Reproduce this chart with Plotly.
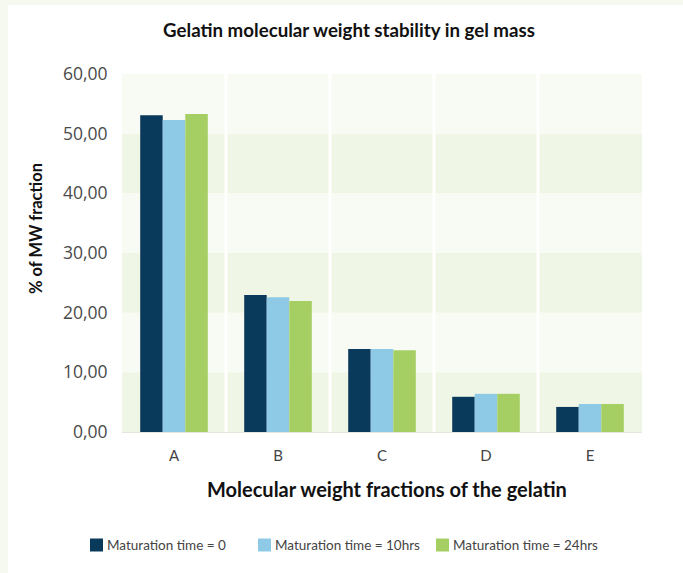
import plotly.graph_objects as go

# Molecular weight fractions and % share per maturation time
fractions = ["A", "B", "C", "D", "E"]
series_names = ["Maturation time = 0", "Maturation time = 10hrs", "Maturation time = 24hrs"]
t0 = [53.1, 22.95, 13.9, 5.9, 4.2]
t10 = [52.3, 22.6, 13.9, 6.4, 4.7]
t24 = [53.3, 21.95, 13.7, 6.4, 4.7]
y_ticks = [0, 10, 20, 30, 40, 50, 60]

colors = ["#0a3a5b", "#8ecae6", "#a5cf62"]
band_dark = "#f0f6e5"
band_light = "#f8fbf3"
page_bg = "#f6f9f0"

W, H = 683, 573
L, R, T, B = 122, 41, 74, 141
PW, PH = W - L - R, H - T - B


def px_x(px):
    return (px - L) / PW


def px_y(py):
    return (H - B - py) / PH


fig = go.Figure()
for name, vals, col in zip(series_names, [t0, t10, t24], colors):
    fig.add_trace(go.Bar(x=fractions, y=vals, name=name, marker=dict(color=col, line=dict(width=0))))

shapes = []
# white card on top of the tinted page
shapes.append(dict(type="rect", xref="paper", yref="paper", x0=px_x(8), x1=px_x(W + 5),
                   y0=px_y(H + 5), y1=px_y(5),
                   fillcolor="white", line=dict(width=0), layer="below"))
# alternating horizontal bands every 10 units
for i in range(len(y_ticks) - 1):
    shapes.append(dict(type="rect", xref="x", yref="y", x0=-0.5, x1=len(fractions) - 0.5,
                       y0=y_ticks[i], y1=y_ticks[i + 1],
                       fillcolor=band_dark if i % 2 == 0 else band_light,
                       line=dict(width=0), layer="below"))
# white separators between categories
for k in range(1, len(fractions)):
    shapes.append(dict(type="line", xref="x", yref="y", x0=k - 0.5, x1=k - 0.5, y0=0, y1=60,
                       line=dict(color="white", width=3), layer="below"))

# legend row drawn beneath the axis title
annotations = []
legend_left = [90, 258, 436]
legend_yc = 545
for name, col, lx in zip(series_names, colors, legend_left):
    shapes.append(dict(type="rect", xref="paper", yref="paper",
                       x0=px_x(lx), x1=px_x(lx + 13), y0=px_y(legend_yc + 6.5), y1=px_y(legend_yc - 6.5),
                       fillcolor=col, line=dict(width=0)))
    annotations.append(dict(text=name, xref="paper", yref="paper", x=px_x(lx + 15), y=px_y(legend_yc),
                            xanchor="left", yanchor="middle", showarrow=False,
                            font=dict(family="Lato", size=13.5, color="#444444")))

# y-axis title
annotations.append(dict(text="<b>% of MW fraction</b>", xref="paper", yref="paper",
                        x=px_x(36), y=px_y(229), xanchor="center", yanchor="middle",
                        textangle=-90, showarrow=False,
                        font=dict(family="Lato", size=16.5, color="#111111")))

# x-axis title
annotations.append(dict(text="<b>Molecular weight fractions of the gelatin</b>", xref="paper", yref="paper",
                        x=px_x(387), y=px_y(489), xanchor="center", yanchor="middle",
                        showarrow=False,
                        font=dict(family="Lato", size=20, color="#111111")))

fig.update_layout(
    width=W, height=H,
    margin=dict(l=L, r=R, t=T, b=B),
    paper_bgcolor=page_bg,
    plot_bgcolor="rgba(0,0,0,0)",
    separators=",.",
    barmode="group",
    bargap=0.35,
    bargroupgap=0,
    showlegend=False,
    shapes=shapes,
    annotations=annotations,
    title=dict(text="<b>Gelatin molecular weight stability in gel mass</b>",
               x=349 / W, xanchor="center", y=1 - 30 / H, yanchor="middle",
               font=dict(family="Lato", size=18.7, color="#111111")),
    xaxis=dict(range=[-0.5, 4.5], showgrid=False, zeroline=False,
               showline=True, linecolor="#e2e6dc", linewidth=1,
               ticks="outside", ticklen=10, tickcolor="rgba(0,0,0,0)",
               tickfont=dict(family="Lato", size=15, color="#444444")),
    yaxis=dict(range=[0, 60], tickvals=y_ticks, tickformat=".2f", showgrid=False, zeroline=False,
               ticks="outside", ticklen=10, tickcolor="rgba(0,0,0,0)",
               tickfont=dict(family="Open Sans", size=17.5, color="#4a4a4a")),
)

fig.write_html("out.html")
